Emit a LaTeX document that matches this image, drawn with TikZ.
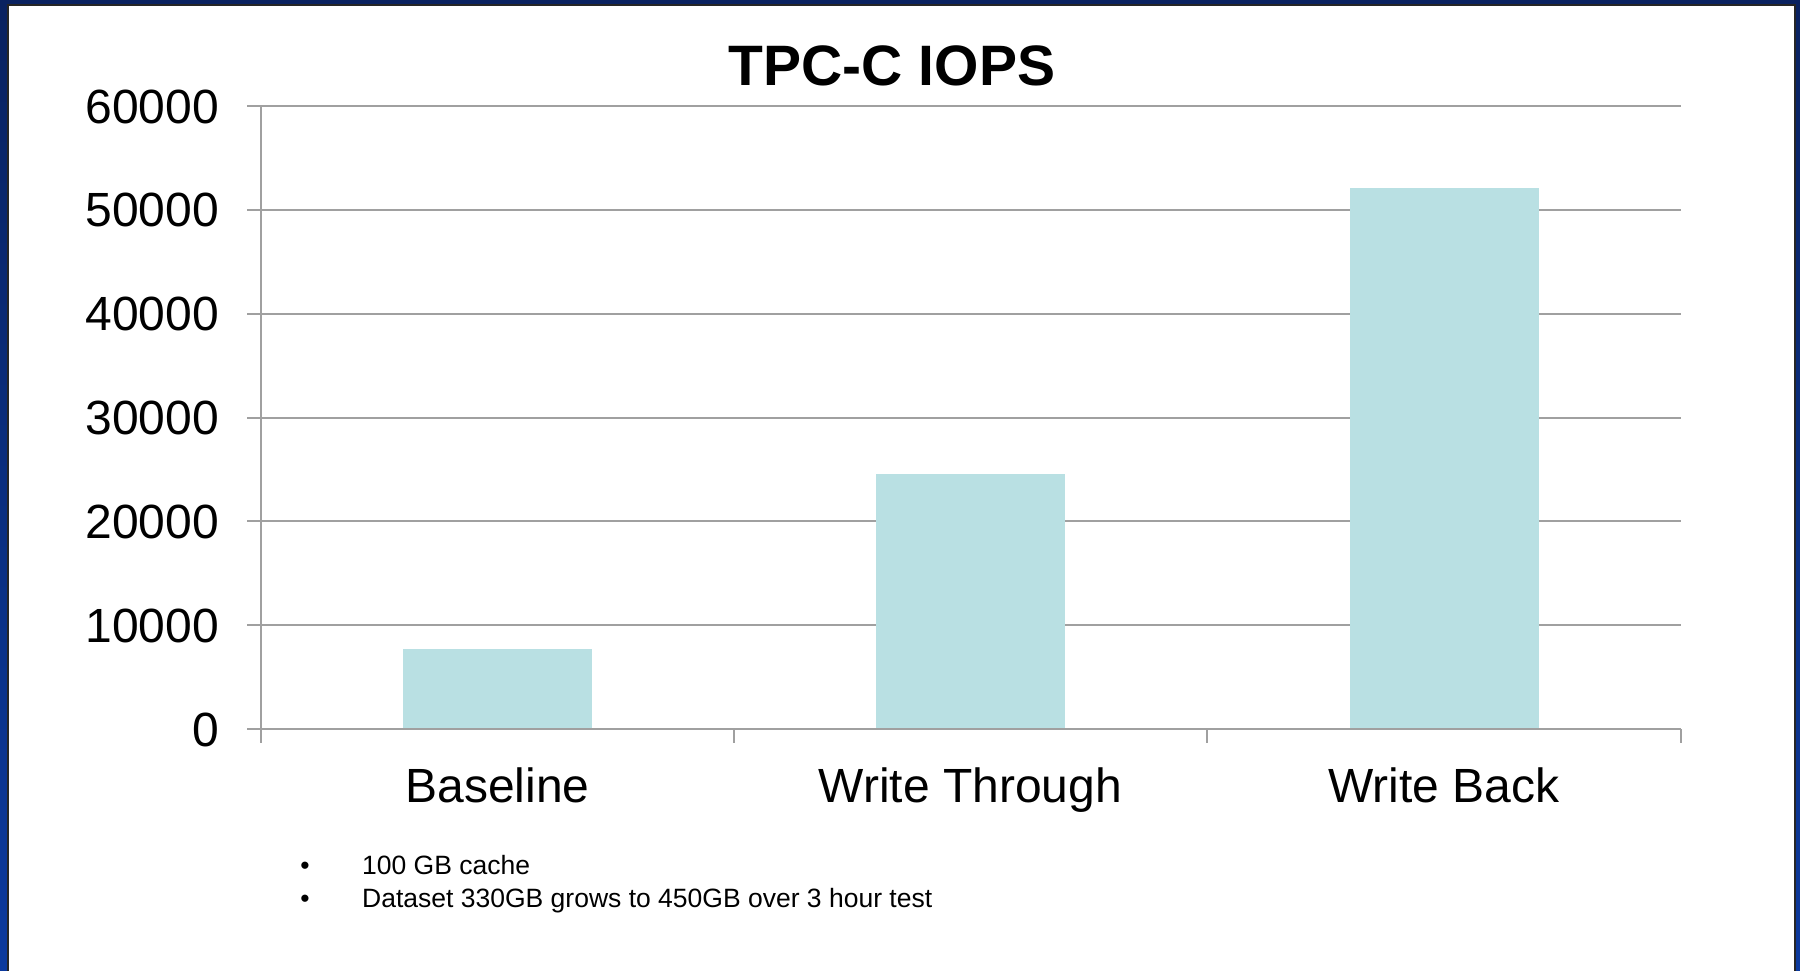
\documentclass[tikz,border=0pt]{standalone}
\usepackage{fontspec}
\setmainfont{Liberation Sans}
\definecolor{barfill}{RGB}{185,224,227}
\definecolor{gridgray}{RGB}{160,160,160}
\definecolor{framenavy}{RGB}{10,34,96}
\definecolor{frameblue}{RGB}{12,58,158}
\newcommand{\axisfont}{\fontsize{48}{50}\selectfont}
\newcommand{\titlefont}{\fontsize{57}{60}\selectfont\bfseries}
\newcommand{\notefont}{\fontsize{26.5}{28}\selectfont}

\begin{document}
\begin{tikzpicture}[x=1pt,y=-1pt,
    grid/.style={gridgray, line width=2pt},
    bar/.style={fill=barfill},
    lab/.style={inner sep=0pt, font=\axisfont}]
    \useasboundingbox (0,0) rectangle (1800,971);
    % slide frame
    \shade[top color=framenavy, bottom color=frameblue] (0,0) rectangle (1800,971);
    \fill[white] (8,5) rectangle (1795,971);
    \draw[black!85, line width=1.5pt] (8,971) -- (8,5) -- (1795,5) -- (1795,971);

    \node[inner sep=0pt, font=\titlefont, anchor=base] (title) at (892,86) {TPC-C IOPS};

    % grid and axes
    \foreach \v in {1,...,6}
        \draw[grid] (247,{729-\v*103.83}) -- (1681,{729-\v*103.83});
    \foreach \v in {0,...,6}
        \node[lab, anchor=base east] (ylab\v) at (219,{729-\v*103.83+17})
            {\the\numexpr\v*10000\relax};

    % bars (values in thousands)
    \foreach \c/\val/\name [count=\i] in
        {497.5/7.705/Baseline, 970.5/24.56/Write Through, 1444/52.1/Write Back}
    {
        \fill[bar] ({\c-94.5},729) rectangle ({\c+94.5},{729-\val*10.383});
        \node[lab, anchor=base] (cat\i) at (\c,802) {\name};
    }

    \draw[grid] (261,106) -- (261,743)
                (247,729) -- (1681,729);
    \foreach \x in {734,1207,1681}
        \draw[grid] (\x,729) -- (\x,743);

    % notes
    \node[inner sep=0pt, font=\notefont, anchor=base] (dot1) at (305,874) {\textbullet};
    \node[inner sep=0pt, font=\notefont, anchor=base] (dot2) at (305,907) {\textbullet};
    \node[inner sep=0pt, font=\notefont, anchor=base west] (note1) at (362,874) {100 GB cache};
    \node[inner sep=0pt, font=\notefont, anchor=base west] (note2) at (362,907)
        {Dataset 330GB grows to 450GB over 3 hour test};
\end{tikzpicture}
\end{document}
